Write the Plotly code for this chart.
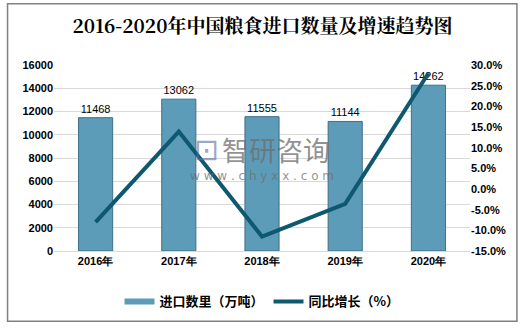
import plotly.graph_objects as go

years = ["2016年", "2017年", "2018年", "2019年", "2020年"]
imports = [11468, 13062, 11555, 11144, 14262]
growth = [-8.0, 13.9, -11.5, -3.6, 28.0]
left_ticks = [0, 2000, 4000, 6000, 8000, 10000, 12000, 14000, 16000]
right_ticks = [-15, -10, -5, 0, 5, 10, 15, 20, 25, 30]

W, H = 525, 329
L, R, T, B = 53.5, 55, 65, 76
pw, ph = W - L - R, H - T - B

def px(x):
    return (x - L) / pw

def py(y):
    return (H - B - y) / ph

tick_font = dict(family="Liberation Sans, Arial", size=11, color="#000000", weight="bold")
bar_color = "#5d9cb9"

fig = go.Figure()
fig.add_trace(go.Bar(
    x=years, y=imports, name="进口数里（万吨）", showlegend=False,
    marker=dict(color=bar_color, line=dict(color="#3f6f86", width=1)),
    width=0.41,
    text=[str(v) for v in imports], textposition="outside",
    textfont=dict(family="Liberation Sans, Arial", size=11, color="#000000"),
    cliponaxis=False,
))
# legend-only entry so the bar key is a flat wide strip, as in the reference
fig.add_trace(go.Scatter(
    x=[None], y=[None], name="进口数里（万吨）", mode="lines",
    line=dict(color=bar_color, width=6),
))
fig.add_trace(go.Scatter(
    x=years, y=growth, name="同比增长（%）", yaxis="y2",
    mode="lines", line=dict(color="#0e5870", width=4),
))

fig.update_layout(
    width=W, height=H,
    margin=dict(l=L, r=R, t=T, b=B),
    paper_bgcolor="#ffffff", plot_bgcolor="#ffffff",
    title=dict(text="2016-2020年中国粮食进口数量及增速趋势图", x=0.5, xanchor="center",
               y=1 - 26 / H, yanchor="middle",
               font=dict(family="Noto Serif CJK SC, Noto Sans CJK SC", size=19, color="#000000", weight="bold")),
    xaxis=dict(showgrid=False, showline=True, linecolor="#d9d9d9", linewidth=1,
               ticks="", tickfont=tick_font, range=[-0.5, 4.5]),
    yaxis=dict(range=[0, 16000], tickvals=left_ticks, ticktext=[str(v) for v in left_ticks],
               showgrid=True, gridcolor="#d9d9d9", gridwidth=1, zeroline=False,
               tickfont=tick_font, ticks="", ticklen=0, showline=False),
    yaxis2=dict(range=[-15, 30], overlaying="y", side="right",
                tickvals=right_ticks, ticktext=[f"{v:.1f}%" for v in right_ticks],
                showgrid=False, zeroline=False, tickfont=tick_font, showline=False),
    bargap=0.59,
    showlegend=True,
    legend=dict(orientation="h", x=0.5, xanchor="center", y=py(304), yanchor="middle",
                font=dict(family="Noto Sans CJK SC", size=13, color="#000000", weight="bold"),
                itemwidth=30, tracegroupgap=0, bgcolor="rgba(0,0,0,0)"),
    shapes=[dict(type="rect", xref="paper", yref="paper",
                 x0=px(7), x1=px(517), y0=py(324), y1=py(3),
                 line=dict(color="#808080", width=1.5), fillcolor="rgba(0,0,0,0)", layer="below")],
    annotations=[
        dict(text="智研咨询", xref="paper", yref="paper", x=px(276), y=py(150),
             xanchor="center", yanchor="middle", showarrow=False,
             font=dict(family="Noto Sans CJK SC", size=27, color="rgba(110,110,110,0.75)")),
        dict(text="⊡", xref="paper", yref="paper", x=px(206), y=py(150),
             xanchor="center", yanchor="middle", showarrow=False,
             font=dict(family="DejaVu Sans", size=30, color="rgba(90,110,160,0.6)")),
        dict(text="w w w . c h y x x . c o m", xref="paper", yref="paper", x=px(262), y=py(177),
             xanchor="center", yanchor="middle", showarrow=False,
             font=dict(family="DejaVu Sans", size=12, color="rgba(110,110,110,0.75)")),
    ],
)

fig.write_html("out.html")
